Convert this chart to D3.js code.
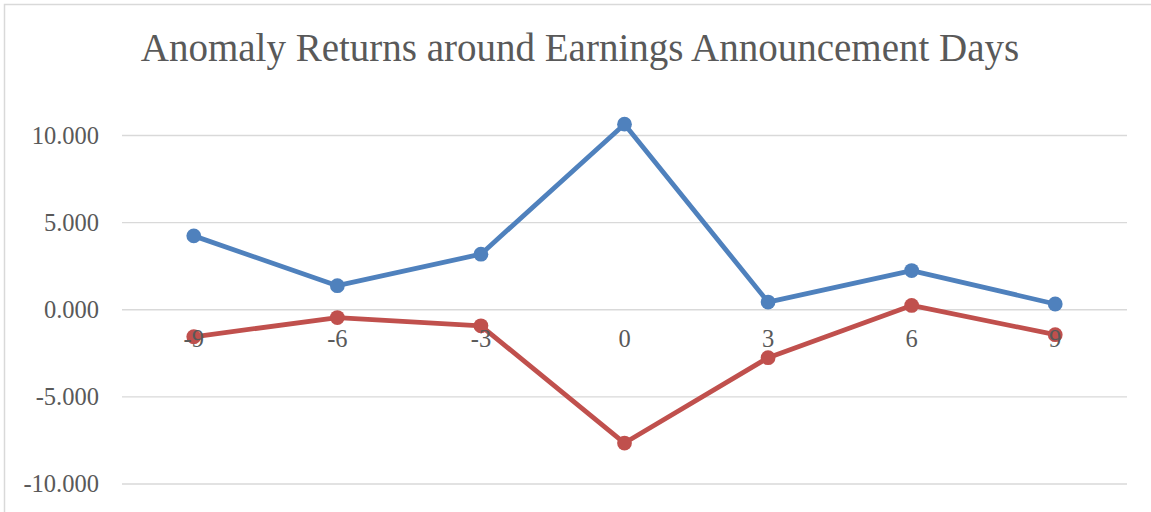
<!DOCTYPE html>
<html>
<head>
<meta charset="utf-8">
<script src="https://cdn.jsdelivr.net/npm/d3@7"></script>
<style>
  html, body { margin: 0; padding: 0; background: #fff; overflow: hidden; }
  text { font-family: "Liberation Serif", "DejaVu Serif", serif; fill: #595959; }
</style>
</head>
<body>
<svg id="chart" width="1151" height="512"></svg>
<script>
// Dữ liệu
const days = [-9, -6, -3, 0, 3, 6, 9];
const blueValues = [4.24, 1.38, 3.19, 10.65, 0.44, 2.25, 0.33];
const redValues = [-1.55, -0.45, -0.92, -7.65, -2.75, 0.25, -1.43];
const yTicks = [-10, -5, 0, 5, 10];
const titleText = "Anomaly Returns around Earnings Announcement Days";

const seriesList = [
  {name: "blue", values: blueValues, color: "#4F81BD"},
  {name: "red", values: redValues, color: "#C0504D"}
];

const svg = d3.select("#chart");
const margin = {top: 135.5, left: 122, right: 24, bottom: 28};
const width = 1151 - margin.left - margin.right;
const height = 512 - margin.top - margin.bottom;

// khung viền
svg.append("rect")
  .attr("x", 4.5).attr("y", 4.5)
  .attr("width", 1170).attr("height", 530)
  .attr("fill", "none")
  .attr("stroke", "#d9d9d9")
  .attr("stroke-width", 1.5);

const g = svg.append("g").attr("transform", `translate(${margin.left},${margin.top})`);

const x = d3.scaleBand().domain(days).range([0, width]);
const y = d3.scaleLinear().domain([-10, 10]).range([height, 0]);

// định dạng số với dấu gạch thường
const fmt = d => d3.format(".3f")(d).replace("\u2212", "-");

// lưới ngang
g.selectAll(".grid")
  .data(yTicks)
  .enter().append("line")
    .attr("x1", 0).attr("x2", width)
    .attr("y1", d => y(d)).attr("y2", d => y(d))
    .attr("stroke", "#d9d9d9")
    .attr("stroke-width", 1.3);

// Trục Y
const yAxis = g.append("g")
  .call(d3.axisLeft(y).tickValues(yTicks).tickFormat(fmt).tickSize(0).tickPadding(23));
yAxis.select(".domain").remove();
yAxis.selectAll("text")
  .style("font-size", "24.5px")
  .attr("fill", "#595959");

// Vẽ các đường
const line = d3.line()
  .x((d, i) => x(days[i]) + x.bandwidth() / 2)
  .y(d => y(d));

seriesList.forEach(s => {
  g.append("path")
    .datum(s.values)
    .attr("fill", "none")
    .attr("stroke", s.color)
    .attr("stroke-width", 4.8)
    .attr("stroke-linejoin", "round")
    .attr("d", line);

  g.selectAll(".dot-" + s.name)
    .data(s.values)
    .enter().append("circle")
      .attr("cx", (d, i) => x(days[i]) + x.bandwidth() / 2)
      .attr("cy", d => y(d))
      .attr("r", 7.4)
      .attr("fill", s.color);
});

// Trục X (nhãn nằm tại vị trí 0)
const xAxis = g.append("g")
  .attr("transform", `translate(0,${y(0)})`)
  .call(d3.axisBottom(x).tickSize(0).tickPadding(20).tickFormat(d => String(d)));
xAxis.select(".domain").remove();
xAxis.selectAll("text")
  .style("font-size", "24.5px")
  .attr("fill", "#595959");

// Tiêu đề
svg.append("text")
  .attr("x", 580)
  .attr("y", 61)
  .attr("text-anchor", "middle")
  .style("font-size", "39px")
  .text(titleText);
</script>
</body>
</html>
